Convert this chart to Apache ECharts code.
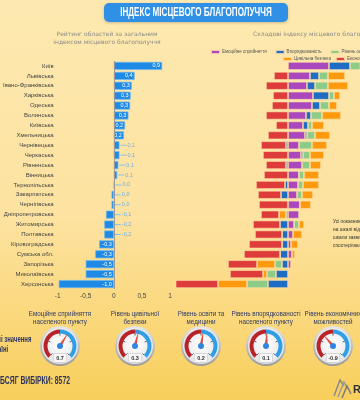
<!DOCTYPE html>
<html><head><meta charset="utf-8">
<script src="https://cdn.jsdelivr.net/npm/echarts@6/dist/echarts.min.js"></script>
<style>html,body{margin:0;padding:0;}#c{width:360px;height:400px;}</style>
</head><body><div id="c"></div>
<script>
// ---------- DATA ----------
const regions = ['Київ','Львівська','Івано-Франківська','Харківська','Одеська','Волинська','Київська','Хмельницька','Чернівецька','Черкаська','Рівненська','Вінницька','Тернопільська','Закарпатська','Чернігівська','Дніпропетровська','Житомирська','Полтавська','Кіровоградська','Сумська обл.','Запорізька','Миколаївська','Херсонська'];
const indexValues = [0.86,0.37,0.32,0.30,0.29,0.26,0.20,0.18,0.10,0.10,0.08,0.06,0.01,-0.04,-0.04,-0.14,-0.17,-0.17,-0.26,-0.33,-0.50,-0.50,-0.98];
const indexTicks = [-1,-0.5,0,0.5,1];

const componentNames = ['Емоційне сприйняття','Впорядкованість','Рівень освіти та медицини','Цивільна безпека','Економічні можливості'];
const emotional = [0.41,0.22,0.19,0.25,0.24,0.18,0.15,0.17,0.11,0.13,0.14,0.11,0.10,0.09,0.12,0.11,0.06,0.05,0.03,0.04,0.03,0,0.01];
const orderliness = [0.21,0.09,0.08,0.16,0.08,0.05,0.05,0.02,-0.02,0.02,-0.02,0,-0.03,-0.07,0,-0.02,-0.08,-0.06,-0.06,-0.08,-0.06,-0.12,-0.20];
const eduMed = [0.12,0.09,0.13,0.05,0.09,0.11,0.04,0.08,0.13,0.07,0.08,0.05,0.05,0.05,0,0,0.05,0,0,0,-0.07,-0.09,-0.21];
const safety = [0.10,0.17,0.20,0.06,0.08,0.19,0.12,0.15,0.15,0.14,0.11,0.15,0.16,0.11,0.11,-0.07,0.05,0.09,0.07,0.03,-0.18,-0.04,-0.29];
const economic = [0,-0.14,-0.22,-0.15,-0.16,-0.22,-0.12,-0.20,-0.25,-0.25,-0.20,-0.24,-0.29,-0.23,-0.29,-0.18,-0.27,-0.27,-0.33,-0.36,-0.29,-0.33,-0.44];
const componentColors = ['#ab47bc','#1e6cc4','#8dcc88','#ff9a0e','#de3b3b'];

const gaugeNames = ['Емоційне сприйняття\nнаселеного пункту','Рівень цивільної\nбезпеки','Рівень освіти та\nмедицини','Рівень впорядкованості\nнаселеного пункту','Рівень економічних\nможливостей'];
const gaugeValues = [0.7,0.3,0.2,0.1,-0.9];
const sampleSize = 8572;

// ---------- LAYOUT ----------
const gaugeCx = [60,135,201,266,333];
const gaugeCy = 346;
const SANS = "'Liberation Sans','Roboto',sans-serif";
const DJ = "'DejaVu Sans',sans-serif";

function fmt(v){
  const r = Math.round(v*10)/10;
  if (r === 0) return '0,0';
  return r.toFixed(1).replace('.', ',');
}

const leftData = indexValues.map(v => {
  const inside = v >= 0.18 || v <= -0.25;
  return {
    value: v,
    label: inside ? {
      show: true, position: 'insideRight', distance: 2, color: '#fff', fontSize: 5.5, fontFamily: SANS,
      formatter: () => fmt(v)
    } : {
      show: true, position: 'right', distance: 1, fontFamily: SANS,
      formatter: () => '{ln| }{v|' + fmt(v) + '}',
      rich: {
        ln: {width: 6, height: 1, backgroundColor: '#8cc0ea'},
        v: {color: '#6aaee6', fontSize: 5.5, padding: [0,0,0,1]}
      }
    }
  };
});

const compData = [emotional, orderliness, eduMed, safety, economic];
const compSeries = componentNames.map((n, i) => ({
  name: n, type: 'bar', xAxisIndex: 1, yAxisIndex: 1, stack: 'comp', barWidth: 8,
  itemStyle: {color: componentColors[i], borderColor: 'rgba(255,226,170,0.85)', borderWidth: 0.7},
  data: compData[i]
}));

const gaugeSeries = gaugeValues.map((v, i) => ({
  type: 'gauge', center: [gaugeCx[i], gaugeCy], radius: 16.5, min: -3, max: 3,
  startAngle: 225, endAngle: -45, splitNumber: 4, z: 5,
  axisLine: {lineStyle: {width: 4, color: [[0.5, '#b8232a'], [1, '#2e9ee6']]}},
  axisTick: {show: false},
  splitLine: {show: true, length: 2, distance: 0, lineStyle: {color: '#333', width: 0.8}},
  axisLabel: {show: false},
  pointer: {length: '95%', width: 1.6, itemStyle: {color: '#e4483a'}},
  anchor: {show: true, size: 6, showAbove: true, itemStyle: {color: '#2f86e0'}},
  title: {offsetCenter: [0, -28], fontSize: 6.3, lineHeight: 8, color: '#2c3a66', fontFamily: SANS},
  detail: {offsetCenter: [0, 12], fontSize: 5.5, lineHeight: 6, width: 11, height: 6, color: '#333', fontFamily: SANS,
    backgroundColor: '#f7f7f7', borderColor: '#bdbdbd', borderWidth: 0.5, borderRadius: 1, padding: [1, 1],
    formatter: x => x.toFixed(1)},
  data: [{value: v, name: gaugeNames[i]}]
}));

const faces = [];
gaugeCx.forEach(cx => {
  faces.push({type: 'circle', z: 0, shape: {cx: cx, cy: gaugeCy, r: 20},
    style: {fill: {type: 'linear', x: 0, y: 0, x2: 0, y2: 1, colorStops: [{offset: 0, color: '#e6e6e6'}, {offset: 1, color: '#9a9a9a'}]}}});
  faces.push({type: 'circle', z: 0, shape: {cx: cx, cy: gaugeCy, r: 18},
    style: {fill: {type: 'radial', x: 0.5, y: 0.45, r: 0.6, colorStops: [{offset: 0, color: '#ffffff'}, {offset: 1, color: '#e2e2e2'}]}}});
});

const chart = echarts.init(document.getElementById('c'), null, {renderer: 'canvas'});
chart.setOption({
  animation: false,
  backgroundColor: {type: 'linear', x: 0, y: 0, x2: 0, y2: 1,
    colorStops: [{offset: 0, color: '#fde9b0'}, {offset: 0.55, color: '#fde2a0'}, {offset: 1, color: '#f8cf5c'}]},
  legend: [
    {data: componentNames.slice(0, 3), left: 210, top: 49, width: 400, itemWidth: 9, itemHeight: 4, itemGap: 8, icon: 'rect',
      selectedMode: false, padding: 0, textStyle: {fontSize: 4.5, color: '#555', fontFamily: SANS, padding: [0, 0, 0, -3]}},
    {data: componentNames.slice(3), left: 282, top: 56, width: 400, itemWidth: 9, itemHeight: 4, itemGap: 4, icon: 'rect',
      selectedMode: false, padding: 0, textStyle: {fontSize: 4.5, color: '#555', fontFamily: SANS, padding: [0, 0, 0, -3]}}
  ],
  grid: [
    {left: 57, right: 190, top: 61, bottom: 111},
    {left: 176, right: 0, top: 61, bottom: 111}
  ],
  xAxis: [
    {type: 'value', gridIndex: 0, min: indexTicks[0], max: indexTicks[indexTicks.length - 1], interval: 0.5,
      axisLine: {show: false}, axisTick: {show: false}, splitLine: {show: false},
      axisLabel: {fontSize: 6.5, color: '#444', margin: 4, fontFamily: SANS,
        formatter: v => String(v).replace('.', ',')}},
    {type: 'value', gridIndex: 1, min: -1.12, max: 0.72, show: false}
  ],
  yAxis: [
    {type: 'category', gridIndex: 0, data: regions, inverse: true,
      axisLine: {show: false}, axisTick: {show: false},
      axisLabel: {fontSize: 6, color: '#444', margin: 4, fontFamily: SANS}},
    {type: 'category', gridIndex: 1, data: regions, inverse: true, show: false}
  ],
  graphic: [
    {type: 'rect', z: 1, shape: {x: 104, y: 3, width: 184, height: 19, r: 5},
      style: {fill: '#2f90e6', shadowBlur: 3, shadowColor: 'rgba(0,0,0,0.2)', shadowOffsetY: 1}},
    {type: 'text', z: 2, x: 196, y: 13, scaleX: 0.65, style: {text: 'ІНДЕКС МІСЦЕВОГО БЛАГОПОЛУЧЧЯ', fill: '#fff',
      font: "bold 12.5px " + SANS, align: 'center', verticalAlign: 'middle'}},
    {type: 'text', x: 107, y: 38, style: {text: 'Рейтинг областей за загальним\nіндексом місцевого благополуччя',
      fill: '#8a8a8a', font: "6px " + DJ, lineHeight: 8, align: 'center', verticalAlign: 'middle'}},
    {type: 'text', x: 253, y: 34, style: {text: 'Складові індексу місцевого благополуччя',
      fill: '#8a8a8a', font: "6px " + DJ, align: 'left', verticalAlign: 'middle'}},
    {type: 'text', x: 333, y: 233, scaleX: 0.8, style: {text: 'Усі показники вимірюються\nна шкалі від -1 до 1. Крайні\nшкали зазвичай не\nспостерігаються',
      fill: '#333', font: "6px " + SANS, lineHeight: 8, align: 'left', verticalAlign: 'middle'}},
    {type: 'text', x: -21, y: 345, scaleX: 0.7, style: {text: 'Середні значення\nпо Україні',
      fill: '#2c3566', font: "bold 8.5px " + SANS, lineHeight: 10, align: 'left', verticalAlign: 'middle'}},
    {type: 'text', x: 70, y: 381, scaleX: 0.62, style: {text: 'ОБСЯГ ВИБІРКИ: ' + sampleSize,
      fill: '#2d3560', font: "bold 11px " + SANS, align: 'right', verticalAlign: 'middle'}},
    {type: 'polyline', shape: {points: [[334, 396], [340, 380], [344, 386]]}, style: {stroke: '#8a8a8a', lineWidth: 1.5, fill: null}},
    {type: 'polyline', shape: {points: [[338, 397], [344, 382], [348, 389]]}, style: {stroke: '#9a9a9a', lineWidth: 1.5, fill: null}},
    {type: 'polyline', shape: {points: [[342, 398], [347, 386], [351, 394]]}, style: {stroke: '#7a7a7a', lineWidth: 1.5, fill: null}},
    {type: 'text', x: 353, y: 390, style: {text: 'R', fill: '#333', font: "bold 11px " + SANS, align: 'left', verticalAlign: 'middle'}}
  ].concat(faces),
  series: [
    {type: 'bar', xAxisIndex: 0, yAxisIndex: 0, barWidth: 8, data: leftData,
      itemStyle: {color: '#1e8ae6', borderColor: '#6fb8f0', borderWidth: 0.7},
      markLine: {silent: true, symbol: 'none', label: {show: false},
        lineStyle: {color: '#9a9a9a', width: 1, type: 'solid'}, data: [{xAxis: 0}]}}
  ].concat(compSeries, gaugeSeries)
});
</script></body></html>
